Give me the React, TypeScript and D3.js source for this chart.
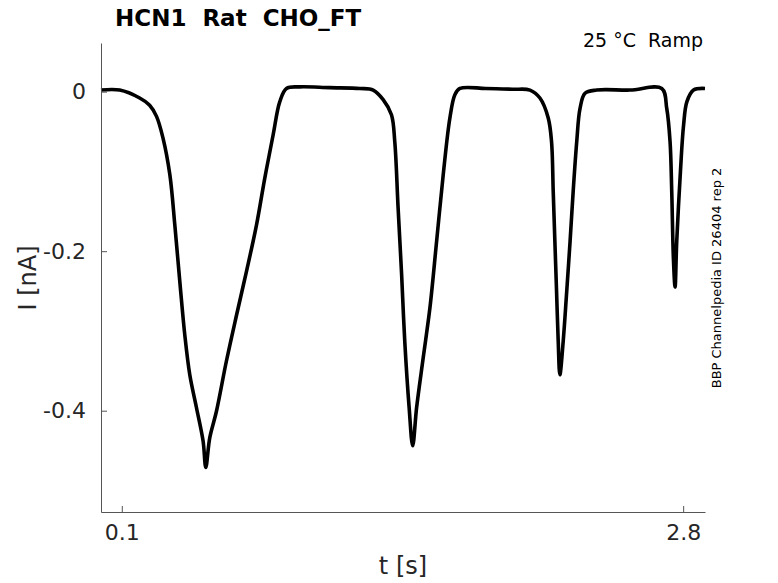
import React, { useEffect, useRef } from 'react';
import * as d3 from 'd3';

// trace: time [s] and current [nA]
const timeS = [
  0, 0.09, 0.186, 0.234, 0.267, 0.298, 0.331, 0.355, 0.379, 0.403, 0.427, 0.459, 0.491, 0.504,
  0.523, 0.555, 0.603, 0.652, 0.7, 0.748, 0.788, 0.828, 0.86, 0.892, 0.956, 1.1, 1.245,
  1.309, 1.357, 1.397, 1.413, 1.429, 1.446, 1.461, 1.482, 1.499, 1.518, 1.55, 1.582, 1.614,
  1.646, 1.678, 1.702, 1.726, 1.85, 1.98, 2.063, 2.111, 2.151, 2.167, 2.175, 2.183, 2.191,
  2.199, 2.207, 2.223, 2.24, 2.256, 2.271, 2.288, 2.304, 2.328, 2.384, 2.544, 2.697, 2.721,
  2.737, 2.745, 2.753, 2.761, 2.769, 2.786, 2.802, 2.818, 2.85, 2.905,
];
const currentNA = [
  0.002, 0.002, -0.008, -0.017, -0.031, -0.058, -0.104, -0.167, -0.238, -0.305, -0.355, -0.396,
  -0.438, -0.471, -0.434, -0.401, -0.338, -0.28, -0.225, -0.167, -0.108, -0.054, -0.0125, 0.004,
  0.006, 0.005, 0.004, 0.002, -0.01, -0.029, -0.063, -0.146, -0.23, -0.313, -0.396, -0.444,
  -0.396, -0.333, -0.271, -0.188, -0.104, -0.033, -0.004, 0.004, 0.004, 0.003, 0.002, -0.008,
  -0.033, -0.063, -0.125, -0.188, -0.25, -0.313, -0.355, -0.313, -0.25, -0.188, -0.125, -0.063,
  -0.021, -0.002, 0.002, 0.002, 0.004, -0.021, -0.063, -0.125, -0.209, -0.245, -0.188, -0.104,
  -0.042, -0.0125, 0.002, 0.004,
];

const xTicks = [0.1, 2.8];
const yTicks = [0, -0.2, -0.4];

const titleText = 'HCN1  Rat  CHO_FT';
const conditionText = '25 °C  Ramp';
const sourceText = 'BBP Channelpedia ID 26404 rep 2';

const W = 778;
const H = 583;
const margin = { left: 101, right: 73, top: 43, bottom: 71 };
const FONT = '"DejaVu Sans", sans-serif';

const fmt = (v: number) => (v === 0 ? '0' : String(v));

const App: React.FC = () => {
  const svgRef = useRef<SVGSVGElement>(null);

  useEffect(() => {
    document.body.style.margin = '0';
    if (!svgRef.current) return;
    const svg = d3.select(svgRef.current);
    svg.selectAll('*').remove();

    const x = d3.scaleLinear().domain([0, 2.905]).range([margin.left, W - margin.right]);
    const y = d3.scaleLinear().domain([-0.527, 0.061]).range([H - margin.bottom, margin.top]);

    // trace
    const pts = timeS.map((t, i) => [t, currentNA[i]] as [number, number]);
    const line = d3.line<[number, number]>()
      .x(d => x(d[0]))
      .y(d => y(d[1]))
      .curve(d3.curveCatmullRom.alpha(0.5));

    svg.append('path')
      .attr('d', line(pts))
      .attr('fill', 'none')
      .attr('stroke', '#000')
      .attr('stroke-width', 3.6)
      .attr('stroke-linejoin', 'round');

    // axes
    const xAxis = svg.append('g')
      .attr('transform', `translate(0,${H - margin.bottom})`)
      .call(d3.axisBottom(x).tickValues(xTicks).tickFormat(d => fmt(+d)).tickSizeInner(-6).tickSizeOuter(0).tickPadding(12));
    const yAxis = svg.append('g')
      .attr('transform', `translate(${margin.left},0)`)
      .call(d3.axisLeft(y).tickValues(yTicks).tickFormat(d => fmt(+d)).tickSizeInner(-6).tickSizeOuter(0).tickPadding(15));

    [xAxis, yAxis].forEach(g => {
      g.select('.domain').attr('stroke', '#555').attr('stroke-width', 1);
      g.selectAll('.tick line').attr('stroke', '#555').attr('stroke-width', 1);
      g.selectAll('.tick text')
        .attr('fill', '#262626')
        .attr('font-family', FONT)
        .attr('font-size', 22);
    });

    // labels
    svg.append('text')
      .attr('x', (margin.left + W - margin.right) / 2)
      .attr('y', 574)
      .attr('text-anchor', 'middle')
      .attr('font-family', FONT)
      .attr('font-size', 24)
      .attr('fill', '#262626')
      .text('t [s]');

    svg.append('text')
      .attr('transform', `translate(36,278) rotate(-90)`)
      .attr('text-anchor', 'middle')
      .attr('font-family', FONT)
      .attr('font-size', 24)
      .attr('fill', '#262626')
      .text('I [nA]');

    svg.append('text')
      .attr('x', 115)
      .attr('y', 26)
      .attr('font-family', FONT)
      .attr('font-weight', 'bold')
      .attr('font-size', 23)
      .attr('fill', '#000')
      .style('white-space', 'pre')
      .text(titleText);

    svg.append('text')
      .attr('x', 703)
      .attr('y', 47)
      .attr('text-anchor', 'end')
      .attr('font-family', FONT)
      .attr('font-size', 19)
      .attr('fill', '#000')
      .style('white-space', 'pre')
      .text(conditionText);

    svg.append('text')
      .attr('transform', `translate(721,278) rotate(-90)`)
      .attr('text-anchor', 'middle')
      .attr('font-family', FONT)
      .attr('font-size', 13)
      .attr('fill', '#000')
      .text(sourceText);
  }, []);

  return <svg ref={svgRef} width={W} height={H} style={{ display: 'block', background: '#fff' }} />;
};

export default App;
